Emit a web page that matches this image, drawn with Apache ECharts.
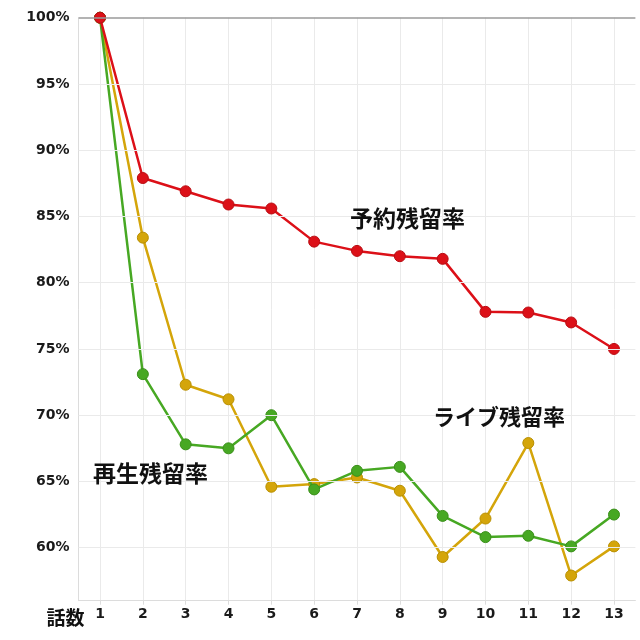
<!DOCTYPE html>
<html><head><meta charset="utf-8">
<script src="https://cdn.jsdelivr.net/npm/echarts@6/dist/echarts.min.js"></script>
<style>html,body{margin:0;padding:0;background:#fff}#c{width:640px;height:640px}</style>
</head><body><div id="c"></div>
<script>
const categories = ['1','2','3','4','5','6','7','8','9','10','11','12','13'];
const liveRate = [100, 83.4, 72.3, 71.2, 64.6, 64.8, 65.3, 64.3, 59.3, 62.2, 67.9, 57.9, 60.1];
const playRate = [100, 73.1, 67.8, 67.5, 70.0, 64.4, 65.8, 66.1, 62.4, 60.8, 60.9, 60.1, 62.5];
const reserveRate = [100, 87.9, 86.9, 85.9, 85.6, 83.1, 82.4, 82.0, 81.8, 77.8, 77.75, 77.0, 75.0];
const seriesNames = ['ライブ残留率', '再生残留率', '予約残留率'];
const yTicks = [60, 65, 70, 75, 80, 85, 90, 95, 100];
const yMin = 56, yMax = 100;
const xAxisName = '話数';

const cjk = '"Noto Sans CJK JP", sans-serif';
const num = '"DejaVu Sans", sans-serif';
const chart = echarts.init(document.getElementById('c'));
function mkSeries(name, data, color, border, z) {
  return {
    name, type: 'line', data, z,
    symbol: 'circle', symbolSize: 11,
    lineStyle: { color, width: 2.5 },
    itemStyle: { color, borderColor: border, borderWidth: 1 },
    emphasis: { disabled: true },
    animation: false
  };
}
const gridSeries = {
  type: 'line', data: [], z: 1, silent: true,
  markLine: {
    silent: true, symbol: 'none', animation: false,
    label: { show: false },
    data: yTicks.map(v => ({
      yAxis: v,
      lineStyle: v === yMax ? { color: '#9a9a9a', width: 1.5, type: 'solid' } : { color: '#eaeaea', width: 1, type: 'solid' }
    }))
  }
};
const s = [
  gridSeries,
  mkSeries(seriesNames[0], liveRate, '#d4a50a', '#b88f00', 2),
  mkSeries(seriesNames[1], playRate, '#47a823', '#3a8f1a', 3),
  mkSeries(seriesNames[2], reserveRate, '#dc1018', '#b80c12', 4)
];
function label(text, left, top, size) {
  return { type: 'text', left, top, z: 10, silent: true,
    style: { text, fontSize: size, fontWeight: 'bold', fontFamily: cjk, fill: '#111', stroke: null, lineWidth: 0 } };
}
chart.setOption({
  animation: false,
  grid: { left: 78.6, right: 4.6, top: 17.7, bottom: 39.3 },
  xAxis: {
    type: 'category', data: categories, boundaryGap: true,
    axisLine: { lineStyle: { color: '#dcdcdc' } },
    axisTick: { show: true, alignWithLabel: true, length: 4, lineStyle: { color: '#dcdcdc' } },
    axisLabel: { color: '#1a1a1a', fontWeight: 'bold', fontSize: 14, fontFamily: num, margin: 7 },
    splitLine: { show: true, alignWithLabel: true, lineStyle: { color: '#eaeaea' } },
    name: xAxisName, nameLocation: 'start', nameGap: -6,
    nameTextStyle: { color: '#111', fontWeight: 'bold', fontSize: 19, fontFamily: cjk, verticalAlign: 'top', align: 'right', padding: [8, 0, 0, 0] }
  },
  yAxis: {
    type: 'value', min: yMin, max: yMax, interval: 1,
    axisLine: { show: true, lineStyle: { color: '#dcdcdc' } },
    axisTick: { show: false },
    axisLabel: {
      color: '#1a1a1a', fontWeight: 'bold', fontSize: 14, fontFamily: num, margin: 9,
      formatter: v => (yTicks.indexOf(v) >= 0 ? v + '%' : '')
    },
    splitLine: { show: false }
  },
  graphic: [
    label(seriesNames[2], 350, 207, 23),
    label(seriesNames[0], 433, 406, 22),
    label(seriesNames[1], 93, 462, 23)
  ],
  series: s
});
</script></body></html>
